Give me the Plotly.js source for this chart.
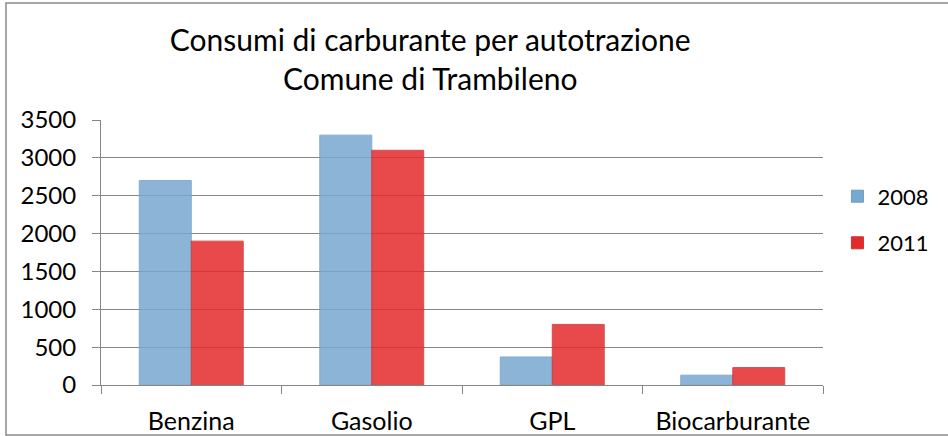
<!DOCTYPE html>
<html>
<head>
<meta charset="utf-8">
<script src="https://cdn.plot.ly/plotly-3.0.1.min.js"></script>
<style>
html,body{margin:0;padding:0;background:#fff;}
#chart{width:948px;height:436px;}
</style>
</head>
<body>
<div id="chart"></div>
<script>
const categories = ["Benzina", "Gasolio", "GPL", "Biocarburante"];
const values2008 = [2700, 3300, 370, 130];
const values2011 = [1900, 3100, 800, 230];
const seriesNames = ["2008", "2011"];
const yTicks = [0, 500, 1000, 1500, 2000, 2500, 3000, 3500];

const FONT = "Lato, 'Open Sans', sans-serif";

const traces = [
  {
    type: "bar", name: seriesNames[0], x: categories, y: values2008,
    marker: {color: "#77a8cf", opacity: 0.85, line: {color: "#6f9cc2", width: 1}},
    legendgroup: "a"
  },
  {
    type: "bar", name: seriesNames[1], x: categories, y: values2011,
    marker: {color: "#e42a2b", opacity: 0.85, line: {color: "#c93233", width: 1}},
    legendgroup: "b"
  }
];

const layout = {
  width: 948, height: 436,
  margin: {l: 101, r: 125, t: 120, b: 51},
  paper_bgcolor: "#ffffff", plot_bgcolor: "#ffffff",
  font: {family: FONT, size: 22, color: "#000000"},
  title: {
    text: "Consumi di carburante per autotrazione<br>Comune di Trambileno",
    font: {family: FONT, size: 30, color: "#000000"},
    x: 0.456, xref: "paper", xanchor: "center",
    y: 0.883, yref: "container", yanchor: "middle"
  },
  barmode: "group",
  bargap: 0.424,
  bargroupgap: 0,
  xaxis: {
    type: "category",
    showline: true, linecolor: "#868686", linewidth: 1,
    ticks: "outside", ticklen: 8, tickcolor: "#868686",
    tickson: "boundaries",
    showgrid: false,
    ticklabelstandoff: 14,
    tickfont: {family: FONT, size: 25, color: "#000000"}
  },
  yaxis: {
    range: [0, 3500],
    tickvals: yTicks,
    showline: true, linecolor: "#868686", linewidth: 1,
    ticks: "outside", ticklen: 8, tickcolor: "#868686",
    showgrid: true, gridcolor: "#868686", gridwidth: 1,
    zeroline: false,
    ticklabelstandoff: 11,
    tickfont: {family: FONT, size: 24, color: "#000000"}
  },
  legend: {
    x: 1.02, xanchor: "left", y: 0.623, yanchor: "middle",
    font: {family: FONT, size: 22, color: "#000000"},
    traceorder: "grouped", tracegroupgap: 15,
    bgcolor: "rgba(0,0,0,0)", borderwidth: 0
  },
  shapes: [
    {type: "rect", xref: "paper", yref: "paper",
     x0: -0.1316, x1: 1.6, y0: -0.1887, y1: 1.4415,
     line: {color: "#8a8a8a", width: 1.5}, fillcolor: "rgba(0,0,0,0)", layer: "below"}
  ],
  showlegend: true
};

Plotly.newPlot("chart", traces, layout, {displayModeBar: false, staticPlot: true});
</script>
</body>
</html>
